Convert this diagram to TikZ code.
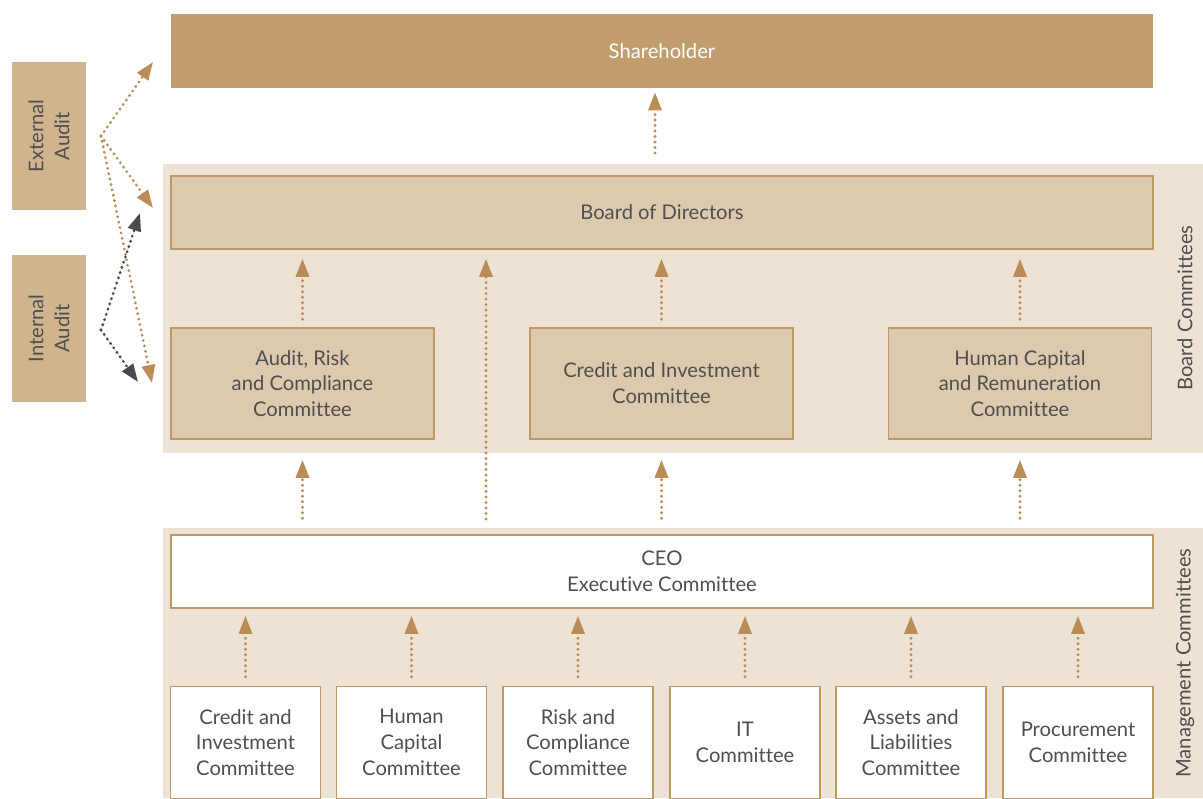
\documentclass[tikz,border=0pt]{standalone}
\usepackage{fontspec}
\setmainfont{Lato}[Ligatures={NoCommon}]
\usetikzlibrary{positioning, arrows.meta}

\definecolor{gold}{HTML}{C29E6E}
\definecolor{goldline}{HTML}{BF9964}
\definecolor{sand}{HTML}{DDC9AD}
\definecolor{cream}{HTML}{EDE2D3}
\definecolor{auditfill}{HTML}{D0B48D}
\definecolor{inkgray}{HTML}{4F4F4F}
\definecolor{arrowgold}{HTML}{B98D55}
\definecolor{arrowdark}{HTML}{474A4E}

% one pixel of the layout grid is 0.02cm
\tikzset{
  every node/.style={font=\fontsize{11.5}{14.7}\selectfont, text=inkgray, align=center, inner sep=0pt},
  orgbox/.style={draw=goldline, line width=0.032cm, minimum height=1.46cm},
  boardbox/.style={orgbox, fill=sand, minimum width=5.26cm, minimum height=2.22cm},
  memberbox/.style={orgbox, fill=white, minimum width=3cm, minimum height=2.24cm},
  auditbox/.style={fill=auditfill, minimum width=2.96cm, minimum height=1.48cm},
  sidelabel/.style={rotate=90},
  flowup/.style={draw=arrowgold, line width=0.062cm, line cap=round,
    dash pattern=on 0cm off 0.11cm, -{Triangle[width=0.26cm,length=0.36cm]}},
  darkflow/.style={flowup, draw=arrowdark, fill=arrowdark},
}

\begin{document}
\begin{tikzpicture}[x=0.02cm, y=-0.02cm]
  \useasboundingbox (0,0) rectangle (1203,798);

  % shaded bands
  \fill[cream] (163,164) rectangle (1203,453);
  \fill[cream] (163,528) rectangle (1203,798);

  % top level
  \node[fill=gold, minimum width=19.64cm, minimum height=1.48cm, text=white] (share) at (662,51) {Shareholder};
  \node[orgbox, fill=sand, minimum width=19.64cm] (bod) at (662,212.5) {Board of Directors};

  % board committees
  \node[boardbox] (arc) at (302.5,383.5) {Audit, Risk\\and Compliance\\Committee};
  \node[boardbox] (cic) at (661.5,383.5) {Credit and Investment\\Committee};
  \node[boardbox] (hcr) at (1020,383.5) {Human Capital\\and Remuneration\\Committee};
  \node[sidelabel] (boardlbl) at (1185,308) {Board Committees};

  % management level
  \node[orgbox, fill=white, minimum width=19.64cm] (ceo) at (662,571.5) {CEO\\Executive Committee};
  \node[memberbox] (m1) at (245.5,742.5) {Credit and\\Investment\\Committee};
  \node[memberbox] (m2) at (411.5,742.5) {Human\\Capital\\Committee};
  \node[memberbox] (m3) at (578,742.5) {Risk and\\Compliance\\Committee};
  \node[memberbox] (m4) at (745,742.5) {IT\\Committee};
  \node[memberbox] (m5) at (911,742.5) {Assets and\\Liabilities\\Committee};
  \node[memberbox] (m6) at (1078,742.5) {Procurement\\Committee};
  \node[sidelabel] (mgmtlbl) at (1185,663) {Management Committees};

  % audit functions
  \node[auditbox, sidelabel] (ext) at (49,136) {External\\Audit};
  \node[auditbox, sidelabel] (int) at (49,328.5) {Internal\\Audit};

  \coordinate (extsrc) at (101,136);
  \coordinate (intsrc) at (101,330);
  \coordinate (toshare) at (153,62);
  \coordinate (tobod) at (153,208);
  \coordinate (toarc) at (152,383);
  \coordinate (tobodi) at (140,213);
  \coordinate (toarci) at (138,382);
  \coordinate (sharetap) at (655,153);
  \coordinate (ceotap) at (486,535);

  % reporting lines
  \draw[flowup, shorten >=0.08cm] (sharetap) -- (sharetap |- share.south);
  \foreach \c in {arc, cic, hcr}
    \draw[flowup, shorten <=0.16cm, shorten >=0.18cm] (\c.north) -- (\c.north |- bod.south);
  \draw[flowup, shorten <=0.32cm, shorten >=0.18cm] (ceotap) -- (ceotap |- bod.south);
  \foreach \c in {arc, cic, hcr}
    \draw[flowup, shorten <=0.32cm, shorten >=0.4cm] (\c.south |- ceo.north) -- (\c.south);
  \foreach \m in {m1, m2, m3, m4, m5, m6}
    \draw[flowup, shorten <=0.18cm, shorten >=0.14cm] (\m.north) -- (\m.north |- ceo.south);

  \draw[flowup] (extsrc) -- (toshare);
  \draw[flowup] (extsrc) -- (tobod);
  \draw[flowup] (extsrc) -- (toarc);
  \draw[darkflow] (intsrc) -- (tobodi);
  \draw[darkflow] (intsrc) -- (toarci);
\end{tikzpicture}
\end{document}
